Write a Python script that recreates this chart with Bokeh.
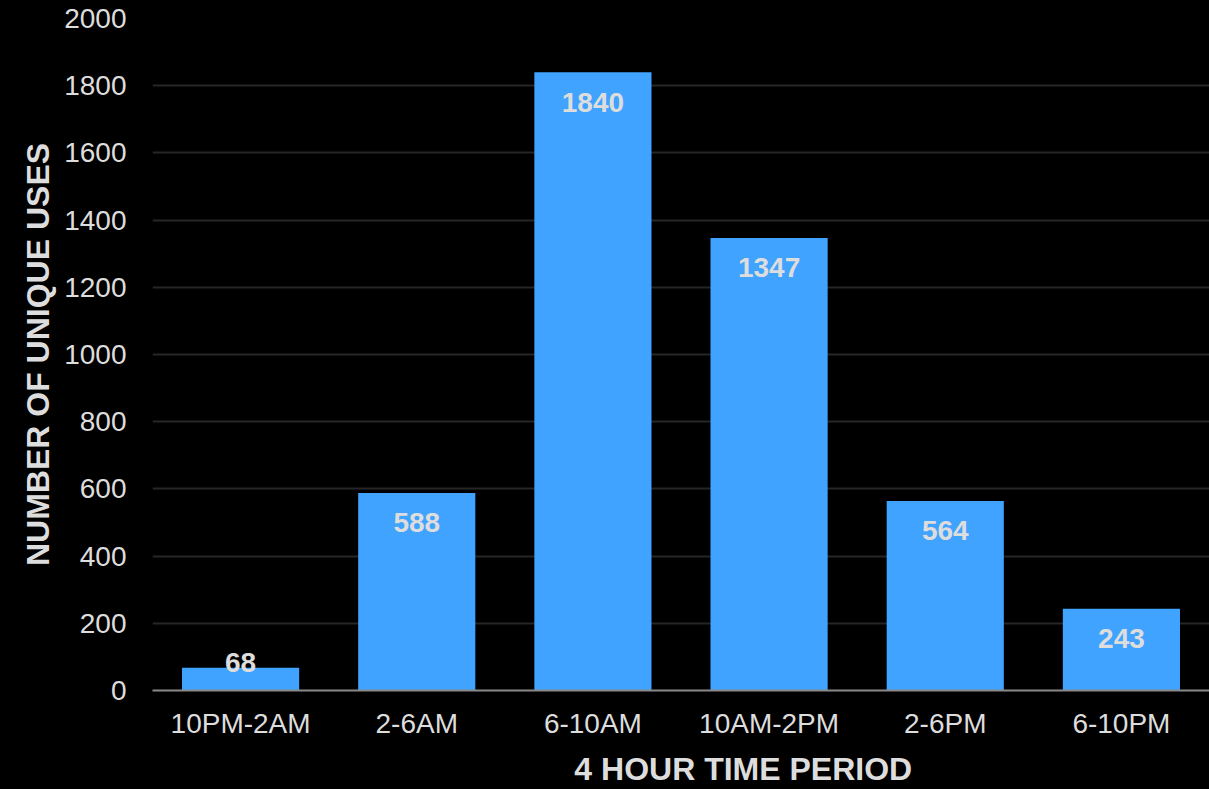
from bokeh.plotting import figure
from bokeh.models import ColumnDataSource, FactorRange, Range1d, SingleIntervalTicker
from bokeh.core.properties import value
from bokeh.embed import file_html
from bokeh.resources import INLINE

# Unique uses per 4-hour window
periods = ["10PM-2AM", "2-6AM", "6-10AM", "10AM-2PM", "2-6PM", "6-10PM"]
uses = [68, 588, 1840, 1347, 564, 243]

FONT = "Liberation Sans"
TEXT = "#dddddd"
BAR = "#3fa3ff"

# value labels sit inside the top of each bar, but never below the baseline area
label_y = [max(v - 89, 83) for v in uses]
src = ColumnDataSource(dict(period=periods, uses=uses, label=[str(v) for v in uses], label_y=label_y))

p = figure(
    width=1209, height=789,
    x_range=FactorRange(*periods, range_padding=0),
    y_range=Range1d(0, 2000),
    output_backend="svg", toolbar_location=None,
    background_fill_color="black", border_fill_color="black",
    min_border_left=152, min_border_right=0, min_border_top=18, min_border_bottom=99,
)
p.outline_line_color = None

p.vbar(x="period", top="uses", width=0.665, source=src, color=BAR, line_color=None)
p.text(x="period", y="label_y", text="label", source=src,
       text_align="center", text_baseline="middle",
       text_font=value(FONT), text_font_size="28px", text_font_style="bold", text_color=TEXT)

# grid
p.xgrid.grid_line_color = None
p.ygrid.grid_line_color = "#262626"
p.ygrid.grid_line_width = 2

# y axis
p.yaxis.ticker = SingleIntervalTicker(interval=200)
p.yaxis.axis_line_color = None
p.yaxis.major_tick_line_color = None
p.yaxis.minor_tick_line_color = None
p.yaxis.major_label_standoff = 20
p.yaxis.major_label_text_font = FONT
p.yaxis.major_label_text_font_size = "28px"
p.yaxis.major_label_text_color = TEXT
p.yaxis.axis_label = "NUMBER OF UNIQUE USES"
p.yaxis.axis_label_text_font = FONT
p.yaxis.axis_label_text_font_size = "32px"
p.yaxis.axis_label_text_font_style = "bold"
p.yaxis.axis_label_text_color = TEXT
p.yaxis.axis_label_standoff = 5

# x axis
p.xaxis.axis_line_color = "#8a8a8a"
p.xaxis.axis_line_width = 2
p.xaxis.major_tick_line_color = None
p.xaxis.minor_tick_line_color = None
p.xaxis.major_label_standoff = 11
p.xaxis.major_label_text_font = FONT
p.xaxis.major_label_text_font_size = "28px"
p.xaxis.major_label_text_color = TEXT
# leading no-break spaces push the centred title a little to the right
p.xaxis.axis_label = "\u00a0" * 14 + "4 HOUR TIME PERIOD"
p.xaxis.axis_label_text_font = FONT
p.xaxis.axis_label_text_font_size = "32px"
p.xaxis.axis_label_text_font_style = "bold"
p.xaxis.axis_label_text_color = TEXT
p.xaxis.axis_label_standoff = 9

html = file_html(p, INLINE)
# dark page behind the canvas so no light seams show between panels
html = html.replace("</head>", "<style>html, body { margin: 0; padding: 0; background: #000000; }</style>\n</head>", 1)
open("out.html", "w").write(html)
